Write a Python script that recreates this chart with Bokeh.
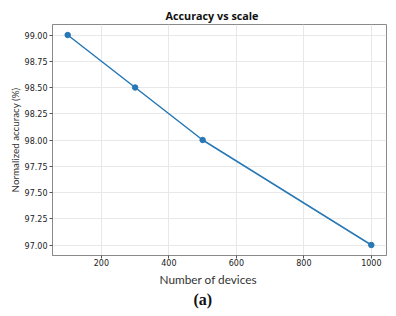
from bokeh.plotting import figure
from bokeh.models import FixedTicker, NumeralTickFormatter, Title, Range1d
from bokeh.embed import file_html
from bokeh.resources import INLINE

devices = [100, 300, 500, 1000]
accuracy = [99.0, 98.5, 98.0, 97.0]
x_ticks = [200, 400, 600, 800, 1000]
y_ticks = [97.0, 97.25, 97.5, 97.75, 98.0, 98.25, 98.5, 98.75, 99.0]

p = figure(width=396, height=316, output_backend="svg", toolbar_location=None,
           x_range=Range1d(55, 1045), y_range=Range1d(96.9, 99.1),
           min_border_left=52, min_border_right=10, min_border_top=24, min_border_bottom=61)

p.title.text = "Accuracy vs scale"
p.title.align = "left"
p.title.text_font = "Open Sans"
p.title.text_font_style = "bold"
p.title.text_font_size = "10.8px"
p.title.text_color = "#111111"
p.title.standoff = 3
p.title.offset = 113

line_color = "#2878b5"
p.line(devices, accuracy, line_color=line_color, line_width=1.5)
p.scatter(devices, accuracy, size=5.5, fill_color=line_color, line_color=line_color)

for ax in (p.xaxis[0], p.yaxis[0]):
    ax.axis_line_color = "#8a8a8a"
    ax.major_tick_line_color = "#555555"
    ax.major_tick_out = 3
    ax.major_tick_in = 0
    ax.minor_tick_line_color = None
    ax.major_label_text_font = "DejaVu Sans"
    ax.major_label_text_font_size = "8px"
    ax.major_label_text_color = "#222222"
    ax.axis_label_text_font = "Lato"
    ax.axis_label_text_font_style = "normal"
    ax.axis_label_text_color = "#333333"

p.xaxis.ticker = FixedTicker(ticks=x_ticks)
p.yaxis.ticker = FixedTicker(ticks=y_ticks)
p.yaxis.formatter = NumeralTickFormatter(format="0.00")
p.yaxis.axis_label = "Normalized accuracy (%)"
p.yaxis.axis_label_text_font_size = "9.8px"
p.yaxis.axis_label_standoff = 1
p.xaxis.major_label_standoff = 0
p.yaxis.major_label_standoff = 2

p.grid.grid_line_color = "#e8e8e8"
p.grid.grid_line_width = 1
p.outline_line_color = "#8a8a8a"
p.outline_line_width = 1

xlab = Title(text="Number of devices", align="left", text_font="Lato",
             text_font_style="normal", text_font_size="11.8px", text_color="#333333",
             standoff=2, offset=107)
p.add_layout(xlab, "below")

sub = Title(text="(a)", align="left", text_font="Liberation Serif",
            text_font_style="bold", text_font_size="16px", text_color="#111111",
            standoff=3, offset=141)
p.add_layout(sub, "below")

open("out.html", "w").write(file_html(p, INLINE))
